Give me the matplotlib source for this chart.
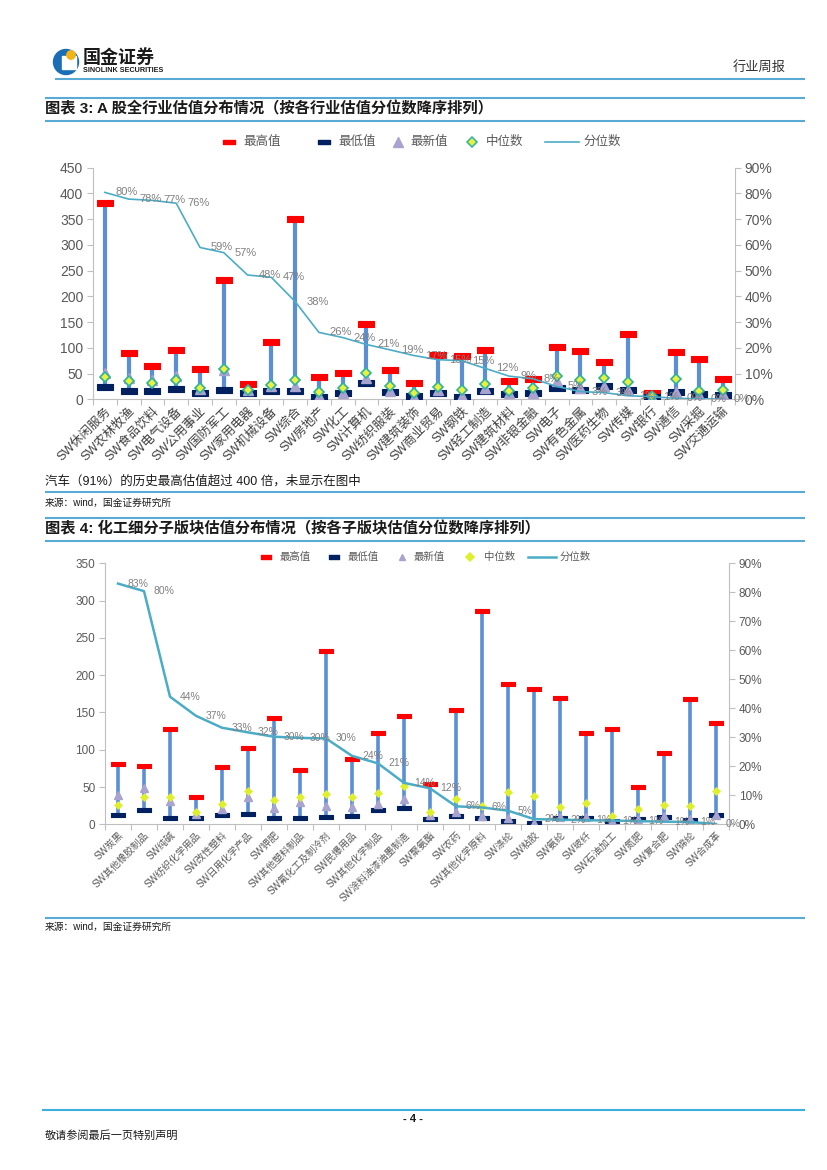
import matplotlib
matplotlib.use('Agg')
import matplotlib.pyplot as plt
import numpy as np
from matplotlib.path import Path
from matplotlib.markers import MarkerStyle
from matplotlib.ticker import FixedLocator, FuncFormatter
import matplotlib.patches as mpatches

plt.rcParams['font.family'] = ['Liberation Sans', 'Noto Sans CJK SC', 'DejaVu Sans']

# ---------------- data: chart 1 ----------------
cats1 = ['SW休闲服务', 'SW农林牧渔', 'SW食品饮料', 'SW电气设备', 'SW公用事业', 'SW国防军工',
         'SW家用电器', 'SW机械设备', 'SW综合', 'SW房地产', 'SW化工', 'SW计算机', 'SW纺织服装',
         'SW建筑装饰', 'SW商业贸易', 'SW钢铁', 'SW轻工制造', 'SW建筑材料', 'SW非银金融', 'SW电子',
         'SW有色金属', 'SW医药生物', 'SW传媒', 'SW银行', 'SW通信', 'SW采掘', 'SW交通运输']
max1 = [382, 89, 64, 95, 58, 232, 30, 111, 350, 44, 52, 146, 56, 31, 86, 84, 95, 36, 40, 101, 93, 73, 126, 13, 91, 78, 40]
min1 = [23, 16, 16, 20, 12, 18, 12, 16, 16, 5, 12, 31, 15, 7, 12, 5, 16, 10, 12, 21, 18, 25, 18, 5, 15, 10, 8]
latest1 = [52, 42, 37, 45, 20, 56, 19, 26, 26, 7, 12, 41, 17, 5, 18, 7, 21, 12, 12, 36, 21, 25, 19, 5, 15, 8, 10]
median1 = [43, 36, 31, 38, 21, 58, 19, 28, 38, 15, 21, 51, 25, 13, 23, 19, 30, 17, 21, 45, 38, 41, 34, 7, 39, 17, 18]
pct1 = [80.4, 77.8, 77.3, 76.2, 59.0, 57.0, 48.3, 47.4, 38.0, 26.0, 24.0, 21.3, 19.2, 17.0, 15.4, 15.0,
        12.0, 9.0, 8.0, 5.0, 3.0, 2.6, 1.4, 1.0, 0.4, 0.2, 0.1]

# ---------------- data: chart 2 ----------------
cats2 = ['SW炭黑', 'SW其他橡胶制品', 'SW纯碱', 'SW纺织化学用品', 'SW改性塑料', 'SW日用化学产品',
         'SW钾肥', 'SW其他塑料制品', 'SW氟化工及制冷剂', 'SW民爆用品', 'SW其他化学制品',
         'SW涂料油漆油墨制造', 'SW聚氨酯', 'SW农药', 'SW其他化学原料', 'SW涤纶', 'SW粘胶', 'SW氨纶',
         'SW玻纤', 'SW石油加工', 'SW氮肥', 'SW复合肥', 'SW锦纶', 'SW合成革']
max2 = [81, 78, 128, 36, 77, 102, 142, 73, 232, 88, 122, 145, 54, 153, 286, 188, 181, 169, 122, 128, 50, 96, 168, 136]
min2 = [13, 19, 9, 9, 12, 14, 9, 9, 10, 11, 19, 22, 7, 11, 9, 5, 2, 9, 9, 5, 7, 10, 6, 13]
latest2 = [39, 49, 31, 14, 20, 36, 22, 30, 25, 23, 27, 34, 12, 16, 11, 9, 2, 10, 10, 5, 7, 11, 7, 13]
median2 = [26, 36, 37, 16, 27, 45, 32, 36, 41, 36, 42, 51, 17, 34, 24, 43, 38, 23, 28, 11, 20, 26, 24, 45]
pct2 = [83.0, 80.4, 44.0, 37.4, 33.3, 31.7, 30.2, 29.8, 29.6, 23.6, 21.0, 14.3, 12.4, 6.2, 5.8, 4.7,
        1.8, 1.6, 1.4, 1.3, 1.1, 0.9, 0.8, 0.1]

legend_names = ['最高值', '最低值', '最新值', '中位数', '分位数']

# ---------------- styles ----------------
RED = '#FF0000'
NAVY = '#002060'
BLUE_BAR = '#5B8FD4'
TRI = '#A9A3CF'
LINE = '#4BACC6'
GRAY_TXT = '#595959'
SPINE = '#BFBFBF'
RULE = '#5AAAD6'

bar_path = Path([(-1, -0.34), (1, -0.34), (1, 0.34), (-1, 0.34), (-1, -0.34)],
                [Path.MOVETO, Path.LINETO, Path.LINETO, Path.LINETO, Path.CLOSEPOLY])
BAR_M = MarkerStyle(bar_path)

W, H = 827, 1170
fig = plt.figure(figsize=(W / 100, H / 100), dpi=100)


def rect(l, t, r, b):
    return [l / W, 1 - b / H, (r - l) / W, (b - t) / H]


def draw_chart(ax, cats, vmax, vmin, vlast, vmed, pct, ymax, ystep, cfg):
    n = len(cats)
    x = np.arange(n)
    ax.set_xlim(-0.5, n - 0.5)
    ax.set_ylim(0, ymax)
    ax.vlines(x, vmin, vmax, color=BLUE_BAR, lw=cfg['vlw'], zorder=2)
    ax.plot(x, vmax, ls='none', marker=BAR_M, ms=cfg['bar_ms'], mfc=RED, mec=RED,
            mew=0.8, zorder=3, solid_joinstyle='round')
    ax.plot(x, vmin, ls='none', marker=BAR_M, ms=cfg['bar_ms'], mfc=NAVY, mec=NAVY,
            mew=0.8, zorder=3)
    ax.plot(x, vlast, ls='none', marker='^', ms=cfg['tri_ms'], mfc=TRI, mec=TRI, zorder=4)
    ax.plot(x, vmed, ls='none', marker='D', ms=cfg['dia_ms'], mfc=cfg['dia_fc'],
            mec=cfg['dia_ec'], mew=cfg['dia_mew'], zorder=5)

    for s in ['top', 'right']:
        ax.spines[s].set_visible(False)
    for s in ['left', 'bottom']:
        ax.spines[s].set_color(SPINE)
        ax.spines[s].set_linewidth(0.8)
    ax.yaxis.set_major_locator(FixedLocator(np.arange(0, ymax + 1, ystep)))
    ax.tick_params(axis='y', colors=SPINE, labelcolor=GRAY_TXT, labelsize=cfg['tick_fs'],
                   length=4, width=0.8, pad=3)
    ax.set_xticks(x)
    ax.set_xticklabels(cats, rotation=45, ha='right', va='top', rotation_mode='anchor',
                       fontsize=cfg['cat_fs'], color=cfg['cat_color'])
    ax.tick_params(axis='x', which='major', length=0, pad=cfg['cat_pad'])
    ax.set_xticks(np.arange(-0.5, n, 1.0), minor=True)
    ax.tick_params(axis='x', which='minor', length=4, color=SPINE, width=0.8)

    axb = ax.twinx()
    axb.set_ylim(0, 0.9)
    axb.plot(x, np.array(pct) / 100, color=LINE, lw=cfg['line_lw'], zorder=3)
    for xi, p in zip(x, pct):
        axb.annotate(f'{p:.0f}%', (xi, p / 100), xytext=(cfg['lab_dx'], 0),
                     textcoords='offset pixels', ha='left', va='center',
                     fontsize=cfg['lab_fs'], color='#808080', zorder=6)
    for s in ['top', 'left', 'bottom']:
        axb.spines[s].set_visible(False)
    axb.spines['right'].set_color(SPINE)
    axb.spines['right'].set_linewidth(0.8)
    axb.yaxis.set_major_locator(FixedLocator(np.arange(0, 0.91, 0.1)))
    axb.yaxis.set_major_formatter(FuncFormatter(lambda v, p: f'{v * 100:.0f}%'))
    axb.tick_params(axis='y', colors=SPINE, labelcolor=GRAY_TXT, labelsize=cfg['rtick_fs'],
                    length=4, width=0.8, pad=3)
    return axb


cfg1 = dict(vlw=3.0, bar_ms=12, tri_ms=7, dia_ms=5.5, dia_fc='#E8F040', dia_ec='#2DB39E',
            dia_mew=1.2, tick_fs=10, rtick_fs=10, cat_fs=9, cat_color='#404040', cat_pad=4,
            line_lw=1.2, lab_dx=11, lab_fs=8)
cfg2 = dict(vlw=2.6, bar_ms=9.5, tri_ms=6, dia_ms=4.5, dia_fc='#DDF02A', dia_ec='#DDF02A',
            dia_mew=0.5, tick_fs=8.5, rtick_fs=8.5, cat_fs=7, cat_color='#595959', cat_pad=4,
            line_lw=1.8, lab_dx=10, lab_fs=7.5)

ax1 = fig.add_axes(rect(93, 167.7, 735, 399.3))
draw_chart(ax1, cats1, max1, min1, latest1, median1, pct1, 450, 50, cfg1)

ax2 = fig.add_axes(rect(105, 563.3, 729, 824.3))
draw_chart(ax2, cats2, max2, min2, latest2, median2, pct2, 350, 50, cfg2)

# ---------------- page overlay (decorations, legends) ----------------
ov = fig.add_axes([0, 0, 1, 1], zorder=-1)
ov.set_xlim(0, W)
ov.set_ylim(H, 0)
ov.axis('off')


def rule(y, x0=45, x1=805, lw=1.5, color=RULE):
    ov.plot([x0, x1], [y, y], color=color, lw=lw, solid_capstyle='butt')


# logo
ov.add_patch(mpatches.Circle((66, 62), 12.5, color='#1B6DB5'))
ov.add_patch(mpatches.Rectangle((62, 56), 14, 13, color='white'))
ov.add_patch(mpatches.Circle((71, 55), 4.2, color='#F2B516'))
ov.text(83, 58, '国金证券', fontsize=13, fontweight='bold', color='#1A1A1A', va='center', ha='left')
ov.text(83, 71, 'SINOLINK SECURITIES', fontsize=5.2, fontweight='bold', color='#1A1A1A',
        va='center', ha='left')
ov.text(786, 67, '行业周报', fontsize=9.5, color='#333333', va='center', ha='right')
rule(79, 55, 805)

# chart 1 title
rule(98)
ov.text(45, 109, '图表 3: A 股全行业估值分布情况（按各行业估值分位数降序排列）', fontsize=11,
        fontweight='bold', color='#1A1A1A', va='center', ha='left')
rule(121)


def legend(y, xs, ms_bar, tri_ms, dia_ms, dia_fc, dia_ec, fs, line_len, lw):
    mx = xs
    ov.plot([mx[0]], [y], ls='none', marker=BAR_M, ms=ms_bar, mfc=RED, mec=RED)
    ov.plot([mx[1]], [y], ls='none', marker=BAR_M, ms=ms_bar, mfc=NAVY, mec=NAVY)
    ov.plot([mx[2]], [y], ls='none', marker='^', ms=tri_ms, mfc=TRI, mec=TRI)
    ov.plot([mx[3]], [y], ls='none', marker='D', ms=dia_ms, mfc=dia_fc, mec=dia_ec, mew=1.1)
    ov.plot([mx[4] - line_len / 2, mx[4] + line_len / 2], [y, y], color=LINE, lw=lw)
    offs = [14, 14, 12, 14, line_len / 2 + 4]
    for xi, name, o in zip(mx, legend_names, offs):
        ov.text(xi + o, y, name, fontsize=fs, color=GRAY_TXT, va='center', ha='left')


legend(142, [229, 324, 398, 472, 562], 9, 6.5, 5, '#E8F040', '#2DB39E', 9, 34, 1.2)

# notes under chart 1
ov.text(45, 481, '汽车（91%）的历史最高估值超过 400 倍，未显示在图中', fontsize=9, color='#1A1A1A',
        va='center', ha='left')
rule(492)
ov.text(45, 503, '来源：wind，国金证券研究所', fontsize=7, color='#1A1A1A', va='center', ha='left')

# chart 2 title
rule(518)
ov.text(45, 529, '图表 4: 化工细分子版块估值分布情况（按各子版块估值分位数降序排列）', fontsize=11,
        fontweight='bold', color='#1A1A1A', va='center', ha='left')
rule(541)

legend(557, [266, 334, 402, 470, 542], 7, 5, 4, '#DDF02A', '#DDF02A', 7.5, 28, 1.8)

rule(918)
ov.text(45, 927, '来源：wind，国金证券研究所', fontsize=7, color='#1A1A1A', va='center', ha='left')

# footer
rule(1110, 42, 805, 1.5, '#3AB0E0')
ov.text(413, 1119, '- 4 -', fontsize=8, fontweight='bold', color='#1A1A1A', va='center', ha='center')
ov.text(45, 1136, '敬请参阅最后一页特别声明', fontsize=8, color='#1A1A1A', va='center', ha='left')

fig.savefig('out.png', dpi=100)
